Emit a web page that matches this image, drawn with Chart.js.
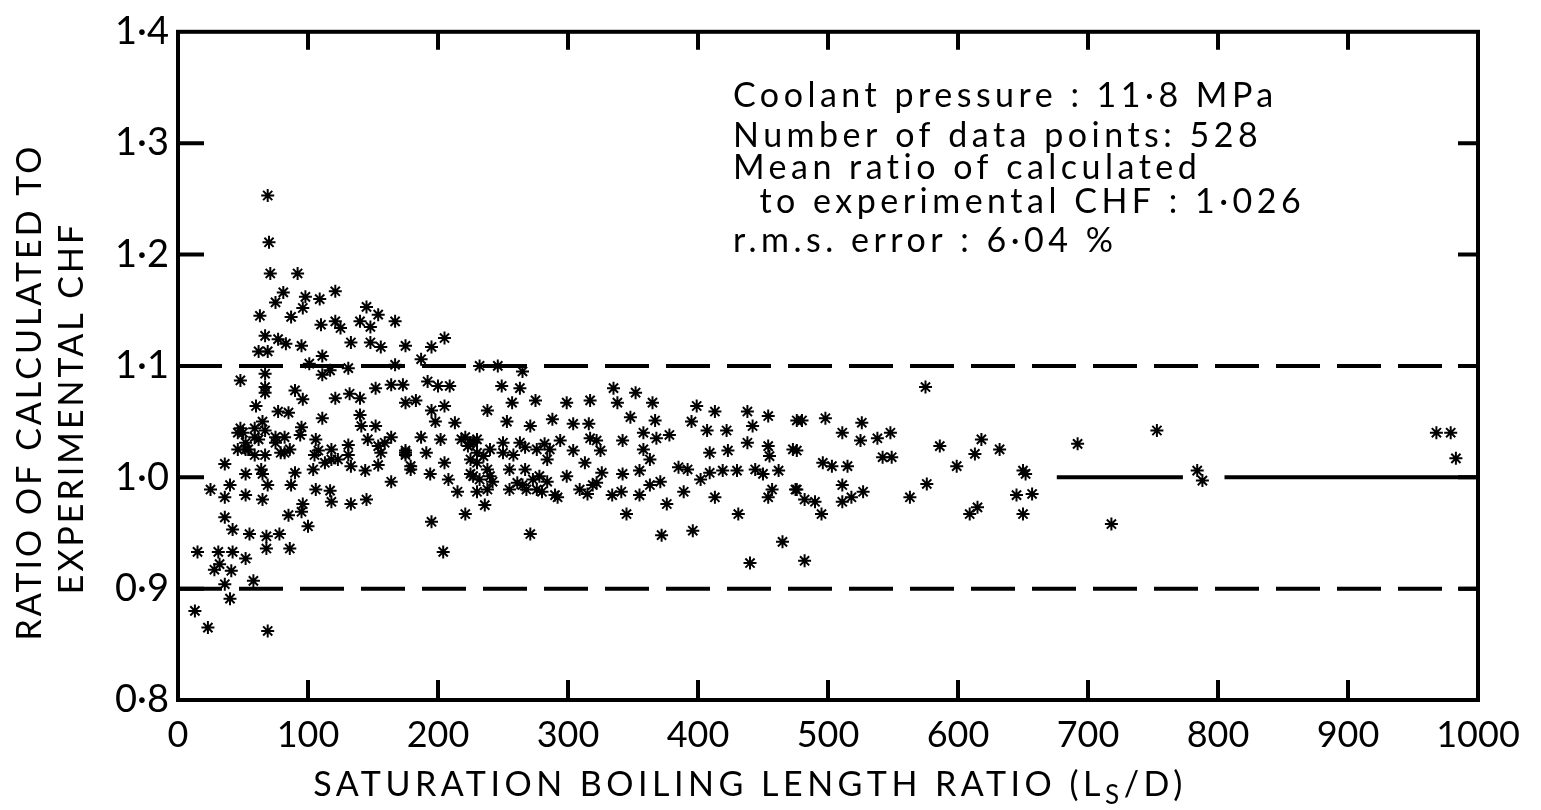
<!DOCTYPE html>
<html>
<head>
<meta charset="utf-8">
<title>Calculated / experimental CHF</title>
<script src="https://cdn.jsdelivr.net/npm/chart.js@4.4.0/dist/chart.umd.min.js"></script>
<style>
    html, body { margin: 0; padding: 0; background: #fff; }
    #wrap { width: 1541px; height: 810px; position: relative; }
</style>
</head>
<body>
<div id="wrap"><canvas id="chf_chart"></canvas></div>
<script>
// axis ticks
const xTicks = [0, 100, 200, 300, 400, 500, 600, 700, 800, 900, 1000];
const yTicks = [0.8, 0.9, 1.0, 1.1, 1.2, 1.3, 1.4];

// +/-10 % band and the unity line (drawn only on the right part)
const bandLimits = [0.9, 1.1];
const unitySegments = [[676, 773], [805, 1000]];

// [Ls/D, calculated/experimental CHF]
const upperLeft = [
    [69,1.253],[70,1.211],[71,1.183],[92,1.183],[121,1.167],[75,1.157],[81,1.166],[98,1.162],[109,1.160],[96,1.152],
    [87,1.144],[63,1.145],[110,1.137],[121,1.140],[125,1.134],[145,1.153],[154,1.146],[140,1.140],[148,1.135],[167,1.140],
    [67,1.127],[77,1.124],[83,1.120],[95,1.118],[62,1.113],[69,1.113],[133,1.121],[148,1.121],[156,1.117],[175,1.118],
    [187,1.106],[195,1.117],[205,1.125],[48,1.087],[67,1.093],[67,1.081],[101,1.102],[111,1.109],[117,1.096],[111,1.092],
    [131,1.098],[167,1.101],[152,1.080],[164,1.083],[173,1.083],[192,1.086],[200,1.082],[209,1.082],[67,1.076],[60,1.064],
    [90,1.078],[96,1.070],[121,1.071],[132,1.075],[140,1.071],[111,1.053],[140,1.056],[175,1.067],[183,1.069],[195,1.060],
    [205,1.064],[198,1.050],[213,1.049],[77,1.059],[85,1.058],[50,1.040],[54,1.025],[67,1.042],[62,1.034],[82,1.036],
    [95,1.045],[86,1.025],[106,1.034],[118,1.025],[131,1.029],[141,1.046],[152,1.046],[164,1.036],[154,1.028],[175,1.024],
    [187,1.036],[202,1.034],[221,1.036],[223,1.028],[36,1.012],[67,1.020],[52,1.031],[59,1.044],[75,1.031],[94,1.038],
    [48,1.044],[65,1.050]
];
const lowerLeft = [
    [52,1.003],[65,1.003],[25,0.989],[40,0.993],[36,0.982],[52,0.984],[69,0.993],[65,0.980],[87,0.993],[90,1.004],
    [104,1.007],[106,0.989],[117,0.988],[118,0.978],[133,0.976],[145,0.980],[36,0.964],[85,0.966],[95,0.969],[96,0.976],
    [100,0.956],[42,0.953],[55,0.949],[68,0.947],[78,0.949],[68,0.936],[86,0.936],[15,0.933],[31,0.933],[42,0.933],
    [52,0.927],[28,0.917],[32,0.922],[41,0.916],[36,0.904],[40,0.891],[58,0.907],[13,0.880],[23,0.865],[69,0.862],
    [195,0.960],[204,0.933],[175,1.022],[179,1.007],[194,1.003],[208,0.998],[215,0.987],[221,0.967],[225,1.003],[164,0.996],
    [154,1.011],[144,1.006],[156,1.022],[131,1.020],[118,1.016],[108,1.024]
];
const denseCore = [
    [46,1.040],[59,1.036],[52,1.025],[75,1.036],[79,1.022],[105,1.020],[113,1.013],[123,1.016],[133,1.010],[146,1.034],
    [159,1.031],[175,1.020],[179,1.010],[191,1.022],[205,1.013],[218,1.034],[225,1.016],[46,1.025],[59,1.020],[82,1.022],
    [64,1.007],[225,1.031],[230,1.022],[238,1.007],[242,0.996],[230,0.987],[250,1.022],[258,1.020],[263,1.031],[276,1.025],
    [286,1.025],[267,1.007],[273,0.998],[284,0.996],[280,0.987]
];
const middle = [
    [232,1.100],[246,1.100],[265,1.095],[249,1.082],[263,1.080],[275,1.069],[299,1.067],[317,1.069],[335,1.080],[352,1.076],
    [238,1.060],[257,1.067],[253,1.050],[271,1.046],[288,1.052],[304,1.048],[316,1.048],[338,1.067],[348,1.054],[365,1.067],
    [367,1.051],[399,1.064],[413,1.059],[438,1.059],[454,1.055],[395,1.050],[407,1.042],[422,1.042],[442,1.046],[476,1.051],
    [230,1.034],[240,1.025],[250,1.031],[267,1.027],[282,1.030],[294,1.033],[304,1.024],[317,1.035],[325,1.024],[342,1.033],
    [358,1.040],[368,1.035],[378,1.038],[358,1.025],[363,1.016],[409,1.022],[423,1.024],[438,1.031],[454,1.028],[455,1.019],
    [473,1.025],[230,1.013],[232,0.998],[238,0.989],[236,0.975],[255,1.007],[261,0.995],[268,0.989],[278,1.001],[284,1.016],
    [290,0.984],[299,1.001],[313,1.013],[322,0.995],[315,0.985],[326,1.004],[334,0.984],[342,1.003],[341,0.987],[345,0.967],
    [355,1.006],[355,0.984],[363,0.993],[371,0.996],[376,0.976],[385,1.009],[392,1.007],[389,0.987],[402,0.998],[409,1.004],
    [413,0.982],[419,1.006],[430,1.006],[444,1.007],[450,1.003],[462,1.006],[457,0.989],[454,0.982],[475,0.989],[431,0.967],
    [271,0.949],[372,0.948],[396,0.952],[465,0.942],[440,0.923],[227,1.031],[235,1.019],[227,1.001],[240,1.001],[255,0.989],
    [265,0.993],[276,0.989],[292,0.982],[309,0.989],[319,0.993],[322,1.033]
];
const right = [
    [575,1.081],[480,1.051],[498,1.053],[511,1.040],[526,1.049],[525,1.033],[538,1.035],[548,1.040],[542,1.018],[549,1.018],
    [476,1.024],[496,1.013],[503,1.010],[515,1.010],[476,0.989],[482,0.980],[490,0.978],[495,0.967],[511,0.993],[511,0.978],
    [518,0.982],[527,0.987],[563,0.982],[576,0.994],[482,0.925],[586,1.028],[599,1.010],[618,1.034],[613,1.021],[632,1.025],
    [650,1.006],[652,1.003],[645,0.984],[657,0.985],[650,0.967],[615,0.973],[609,0.967],[692,1.030],[718,0.958],[753,1.042],
    [784,1.006],[788,0.997],[968,1.040],[979,1.040],[983,1.017]
];

const notes = [
    "Coolant pressure : 11·8 MPa",
    "Number of data points: 528",
    "Mean ratio of calculated",
    "  to experimental CHF : 1·026",
    "r.m.s. error : 6·04 %"
];

const FONT = "Lato";
const ink = "#000";

const points = [].concat(upperLeft, lowerLeft, denseCore, middle, right).map(p => ({ x: p[0], y: p[1] }));

function flatLine(y, x0, x1, dash) {
    return {
        type: "line",
        data: [{ x: x0, y: y }, { x: x1, y: y }],
        borderColor: ink,
        borderWidth: 4,
        borderDash: dash,
        pointRadius: 0,
        fill: false
    };
}

const datasets = [
    ...bandLimits.map(v => flatLine(v, xTicks[0], xTicks[xTicks.length - 1], [44, 17])),
    ...unitySegments.map(s => flatLine(1.0, s[0], s[1], [])),
    {
        type: "scatter",
        data: points,
        pointStyle: "star",
        pointRadius: 6.5,
        borderWidth: 2,
        borderColor: ink,
        backgroundColor: ink
    }
];

// frame, inward ticks, axis titles and the note block
const decorations = {
    id: "decorations",
    afterDatasetsDraw(chart) {
        const { ctx, chartArea: a, scales: { x, y } } = chart;
        ctx.save();
        ctx.strokeStyle = ink;
        ctx.lineWidth = 4;
        ctx.strokeRect(a.left, a.top, a.width, a.height);
        ctx.beginPath();
        xTicks.slice(1, -1).forEach(v => {
            const px = x.getPixelForValue(v);
            ctx.moveTo(px, a.bottom); ctx.lineTo(px, a.bottom - 20);
            ctx.moveTo(px, a.top); ctx.lineTo(px, a.top + 18);
        });
        yTicks.slice(1, -1).forEach(v => {
            const py = y.getPixelForValue(v);
            ctx.moveTo(a.left, py); ctx.lineTo(a.left + 26, py);
            ctx.moveTo(a.right, py); ctx.lineTo(a.right - 20, py);
        });
        ctx.stroke();

        ctx.fillStyle = ink;
        ctx.textBaseline = "middle";
        ctx.textAlign = "center";
        ctx.font = `34px ${FONT}`;
        ctx.letterSpacing = "3px";

        // y title, two lines
        ctx.save();
        ctx.translate(30, 392);
        ctx.rotate(-Math.PI / 2);
        ctx.fillText("RATIO OF CALCULATED TO", 0, 0);
        ctx.restore();
        ctx.save();
        ctx.translate(72, 408);
        ctx.rotate(-Math.PI / 2);
        ctx.fillText("EXPERIMENTAL CHF", 0, 0);
        ctx.restore();

        // x title with subscript S
        const head = "SATURATION BOILING LENGTH RATIO (L", tail = "/D)";
        ctx.textAlign = "left";
        ctx.font = `34px ${FONT}`;
        ctx.letterSpacing = "4.5px";
        const wHead = ctx.measureText(head).width;
        const wTail = ctx.measureText(tail).width;
        ctx.font = `26px ${FONT}`;
        const wSub = ctx.measureText("S").width;
        let cx = 750 - (wHead + wSub + wTail) / 2;
        ctx.font = `34px ${FONT}`;
        ctx.fillText(head, cx, 785);
        cx += wHead;
        ctx.font = `26px ${FONT}`;
        ctx.fillText("S", cx, 796);
        cx += wSub;
        ctx.font = `34px ${FONT}`;
        ctx.fillText(tail, cx, 785);

        // notes
        ctx.font = `34px ${FONT}`;
        ctx.letterSpacing = "4.5px";
        const rows = [96, 136, 168, 202, 241];
        notes.forEach((t, i) => ctx.fillText(t, 733, rows[i]));
        ctx.restore();
    }
};

const fmt = v => (Math.round(v * 10) / 10).toFixed(1).replace(".", "·");

new Chart(document.getElementById("chf_chart").getContext("2d"), {
    data: { datasets: datasets },
    options: {
        responsive: true,
        maintainAspectRatio: false,
        animation: false,
        events: [],
        layout: { padding: { top: 24, right: 63, left: 0, bottom: 0 } },
        plugins: { legend: { display: false }, tooltip: { enabled: false } },
        scales: {
            x: {
                type: "linear",
                min: 0,
                max: 1000,
                afterFit: s => { s.height = 110; },
                afterBuildTicks: s => { s.ticks = xTicks.map(v => ({ value: v })); },
                grid: { display: false, drawTicks: false },
                border: { display: false },
                ticks: {
                    color: ink,
                    padding: 14,
                    maxRotation: 0,
                    callback: v => String(v),
                    font: { family: FONT, size: 36 }
                }
            },
            y: {
                type: "linear",
                min: 0.8,
                max: 1.4,
                afterFit: s => { s.width = 178; },
                afterBuildTicks: s => { s.ticks = yTicks.map(v => ({ value: v })); },
                grid: { display: false, drawTicks: false },
                border: { display: false },
                ticks: {
                    color: ink,
                    padding: 9,
                    callback: v => fmt(v),
                    font: { family: FONT, size: 38 }
                }
            }
        }
    },
    plugins: [decorations]
});
</script>
</body>
</html>
